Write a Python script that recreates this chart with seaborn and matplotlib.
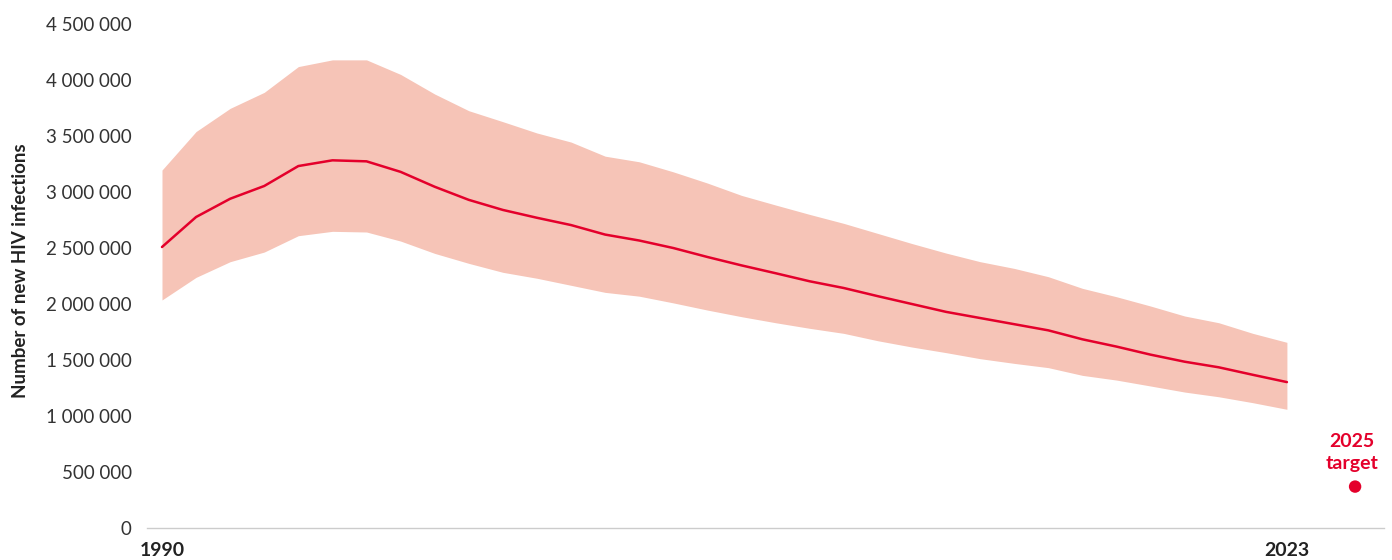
import numpy as np
import pandas as pd
import matplotlib
matplotlib.use("Agg")
import matplotlib.pyplot as plt
from matplotlib.ticker import FuncFormatter
import seaborn as sns

years = list(range(1990, 2024))
estimate = [2509000, 2777000, 2940000, 3054000, 3232000, 3283000, 3274000, 3180000,
            3047000, 2930000, 2840000, 2770000, 2705000, 2620000, 2567000, 2500000,
            2420000, 2345000, 2275000, 2203000, 2143000, 2070000, 2000000, 1930000,
            1875000, 1820000, 1765000, 1685000, 1620000, 1548000, 1485000, 1435000,
            1368000, 1303000]
upper = [3196000, 3540000, 3747000, 3890000, 4120000, 4180000, 4180000, 4050000,
         3875000, 3726000, 3628000, 3527000, 3446000, 3320000, 3270000, 3180000,
         3080000, 2970000, 2884000, 2800000, 2720000, 2630000, 2540000, 2455000,
         2378000, 2318000, 2244000, 2140000, 2065000, 1982000, 1893000, 1833000,
         1738000, 1658000]
lower = [2036000, 2238000, 2378000, 2464000, 2610000, 2649000, 2643000, 2562000,
         2452000, 2363000, 2283000, 2230000, 2167000, 2104000, 2070000, 2010000,
         1946000, 1887000, 1833000, 1783000, 1738000, 1672000, 1616000, 1566000,
         1512000, 1470000, 1432000, 1363000, 1321000, 1268000, 1214000, 1172000,
         1119000, 1060000]
target_year = [2025]
target_value = [370000]

red = "#E4002B"
band = "#F6C4B7"

df = pd.DataFrame({"year": years, "estimate": estimate, "upper": upper, "lower": lower})
tgt = pd.DataFrame({"year": target_year, "value": target_value})

sns.set_style("white")
plt.rcParams["font.family"] = ["Lato", "DejaVu Sans"]

fig = plt.figure(figsize=(13.92, 5.6), dpi=100)
ax = fig.add_axes([0.1056, 0.0571, 0.8887, 0.92])

ax.fill_between(df["year"], df["lower"], df["upper"], color=band, linewidth=0)
sns.lineplot(data=df, x="year", y="estimate", color=red, linewidth=1.8, ax=ax)
sns.scatterplot(data=tgt, x="year", y="value", color=red, s=80, edgecolor="none", ax=ax)
ax.text(2024.9, 500000, "2025\ntarget", color=red, fontsize=14, fontweight="bold",
        ha="center", va="bottom", linespacing=1.35)

ax.set_xlim(1989.56, 2025.85)
ax.set_ylim(0, 4600000)
ax.set_yticks(np.arange(0, 4500001, 500000))
ax.yaxis.set_major_formatter(FuncFormatter(lambda v, p: f"{int(v):,}".replace(",", " ")))
ax.set_xticks([1990, 2023])
ax.set_xticklabels(["1990", "2023"], fontweight="bold")
ax.tick_params(axis="y", length=0, pad=11, labelsize=13.5, labelcolor="#333333")
ax.tick_params(axis="x", length=0, pad=10, labelsize=14, labelcolor="#222222")

for s in ["top", "right", "left"]:
    ax.spines[s].set_visible(False)
ax.spines["bottom"].set_color("#cccccc")
ax.spines["bottom"].set_linewidth(1)

ax.set_xlabel("")
ax.set_ylabel("Number of new HIV infections", fontsize=13.5, fontweight="bold",
              color="#222222", labelpad=12)

fig.savefig("out.png", dpi=100)
